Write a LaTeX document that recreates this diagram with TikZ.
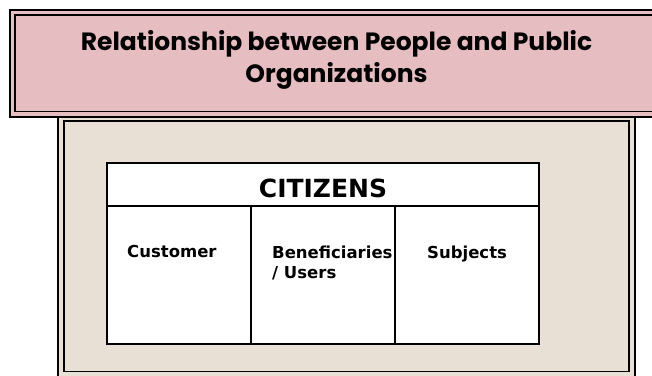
\documentclass[tikz,border=0pt]{standalone}
\usepackage{fontspec}
\setmainfont{DejaVu Sans}
\newfontfamily\titlefont{Poppins}
\usetikzlibrary{positioning}
\usetikzlibrary{calc}
\definecolor{rosepaper}{RGB}{230,189,192}
\definecolor{sandpaper}{RGB}{232,224,212}
\tikzset{outerframe/.style={draw=black,line width=2pt}}
\tikzset{innerframe/.style={draw=black,line width=1.3pt}}
\tikzset{header/.style={draw,line width=1.5pt,fill=white,inner sep=0pt,outer sep=0pt,anchor=north west,minimum width=432pt,minimum height=43pt}}
\tikzset{cell/.style={draw,line width=1.5pt,fill=white,inner sep=0pt,outer sep=0pt,anchor=north west,minimum width=144pt,minimum height=138pt}}
\tikzset{celltext/.style={font=\fontsize{16.5}{20}\selectfont\bfseries,inner sep=0pt,anchor=base west,align=left}}

\begin{document}
\begin{tikzpicture}[x=1pt,y=-1pt]
        \useasboundingbox (0,0) rectangle (652,375);
        \clip (0,0) rectangle (652,375);
        % lower frame
        \fill[sandpaper] (58,116) rectangle (635,380);
        \draw[outerframe] (58,116) rectangle (635,380);
        \draw[innerframe] (64,121) rectangle (629,371.5);
        % banner
        \fill[rosepaper] (9.5,9.5) rectangle (670,117);
        \draw[outerframe] (9.5,9.5) rectangle (670,117);
        \draw[innerframe] (15,15) rectangle (664,111.5);
        \node[font=\titlefont\fontsize{25}{32}\selectfont\bfseries,align=center,anchor=base] (title) at (336.5,82)
            {Relationship between People and Public\\Organizations};
        
        % table
        \node[header] (citizens) at (107,163) {};
        \node[font=\fontsize{25}{28}\selectfont\bfseries,inner sep=0pt,anchor=base] (citizenstext) at (323,197) {CITIZENS};
        \node[cell] (customer) at (citizens.south west) {};
        \node[cell] (beneficiaries) at (customer.north east) {};
        \node[cell] (subjects) at (beneficiaries.north east) {};
        \node[celltext] (customertext) at ($(customer.north west)+(20,51)$) {Customer};
        \node[celltext] (beneficiariestext) at ($(beneficiaries.north west)+(21,72)$) {Beneficiaries\\/ Users};
        \node[celltext] (subjectstext) at ($(subjects.north west)+(32,52)$) {Subjects};
    \end{tikzpicture}
\end{document}
